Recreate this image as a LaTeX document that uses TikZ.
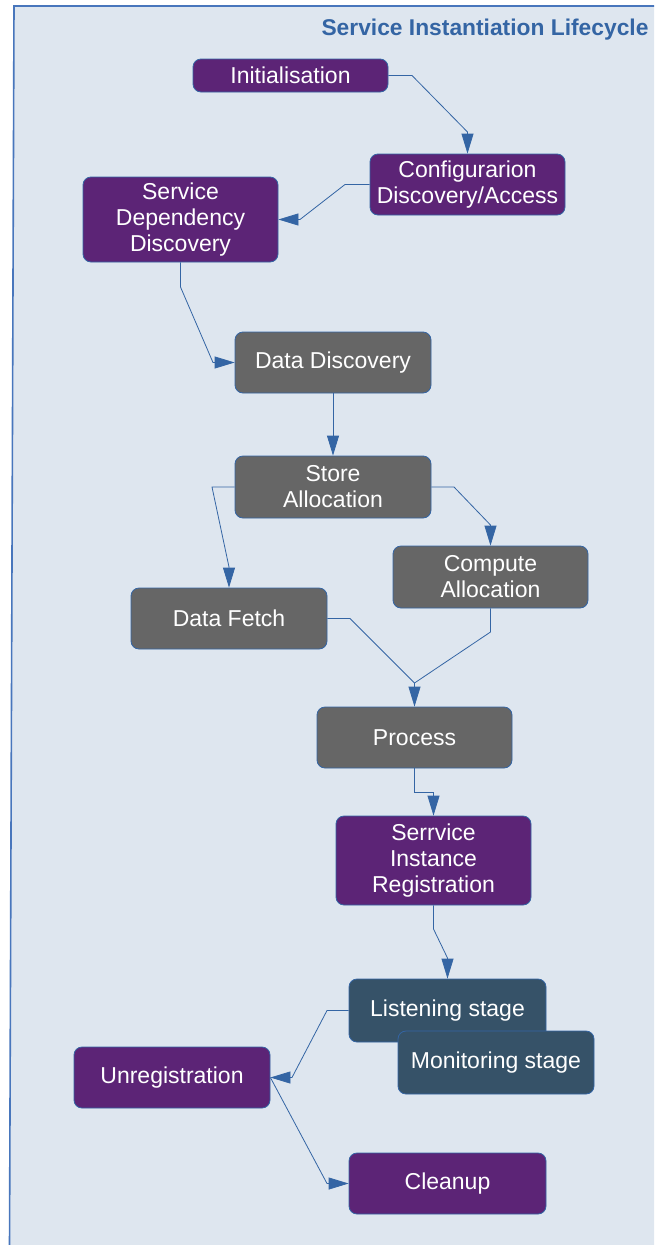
\documentclass[tikz,border=0pt]{standalone}
\usepackage{fontspec}
\setmainfont{Liberation Sans}
\usetikzlibrary{arrows.meta}
\definecolor{bgblue}{RGB}{222,230,239}
\definecolor{edgeblue}{RGB}{52,101,164}
\definecolor{framecol}{RGB}{72,118,188}
\definecolor{purplebox}{RGB}{92,36,118}
\definecolor{graybox}{RGB}{102,102,102}
\definecolor{slatebox}{RGB}{54,82,104}
\tikzset{
  box/.style={draw=edgeblue, line width=0.8pt, rounded corners=8pt, text=white,
    align=center, inner sep=0pt, minimum width=195pt, minimum height=61pt,
    font=\fontsize{23}{26}\selectfont},
  pbox/.style={box, fill=purplebox},
  gbox/.style={box, fill=graybox},
  sbox/.style={box, fill=slatebox},
  conn/.style={draw=edgeblue, line width=0.8pt, -{Triangle[length=20pt,width=12pt]}},
  plainconn/.style={draw=edgeblue, line width=0.8pt},
}
\begin{document}
\begin{tikzpicture}[x=1pt,y=-1pt]
\useasboundingbox (0,0) rectangle (654,1245);
\clip (0,0) rectangle (654,1245);
\fill[bgblue] (14,6) -- (660,6) -- (660,1250) -- (9.5,1250) -- cycle;
\draw[framecol, line width=1.6pt] (9.5,1250) -- (14,6) -- (660,6);
\node[anchor=base west, text=edgeblue, font=\fontsize{22.8}{28}\selectfont\bfseries] (title) at (318,35) {Service Instantiation Lifecycle};

\node[pbox, minimum height=33pt] (init) at (290.5,75.5) {Initialisation};
\node[pbox] (cfg) at (467.5,184.5) {Configurarion\\Discovery/Access};
\node[pbox, minimum height=85pt] (sdd) at (180.5,219.5) {Service\\Dependency\\Discovery};
\node[gbox, minimum width=196pt] (dd) at (333,362.5) {Data Discovery};
\node[gbox, minimum width=196pt, minimum height=62pt] (sa) at (333,487) {Store\\Allocation};
\node[gbox, minimum height=62pt] (ca) at (490.5,577) {Compute\\Allocation};
\node[gbox, minimum width=196pt] (df) at (229,618.5) {Data Fetch};
\node[gbox] (proc) at (414.5,737.5) {Process};
\node[pbox, minimum height=89pt] (sir) at (433.5,860.5) {Serrvice\\Instance\\Registration};
\node[sbox, minimum width=197pt, minimum height=63pt] (ls) at (447.5,1010.5) {Listening stage};
\node[sbox, minimum width=196pt, minimum height=63pt] (mon) at (496,1062.5) {Monitoring stage};
\node[pbox, minimum width=196pt] (un) at (172,1077.5) {Unregistration};
\node[pbox, minimum width=197pt] (cl) at (447.5,1183.5) {Cleanup};

\draw[conn] (init.east) -- (412,75.5) -- (467.5,132) -- (cfg.north);
\draw[conn] (cfg.west) -- (345,184.5) -- (300,219.5) -- (sdd.east);
\draw[conn] (sdd.south) -- (180.5,287) -- (213,362.5) -- (dd.west);
\draw[conn] (dd.south) -- (sa.north);
\draw[conn] (sa.west) -- (212,487) -- (229,567) -- (df.north);
\draw[conn] (sa.east) -- (454,487) -- (490.5,525) -- (ca.north);
\draw[conn] (df.east) -- (350,618.5) -- (414.5,683) -- (proc.north);
\draw[plainconn] (ca.south) -- (490.5,632) -- (414.5,683);
\draw[conn] (proc.south) -- (414.5,792) -- (433.5,792) -- (sir.north);
\draw[conn] (sir.south) -- (433.5,929) -- (447.5,958) -- (ls.north);
\draw[conn] (ls.west) -- (327,1010.5) -- (292,1077.5) -- (un.east);
\draw[conn] (un.east) -- (327,1183.5) -- (cl.west);
\end{tikzpicture}
\end{document}
